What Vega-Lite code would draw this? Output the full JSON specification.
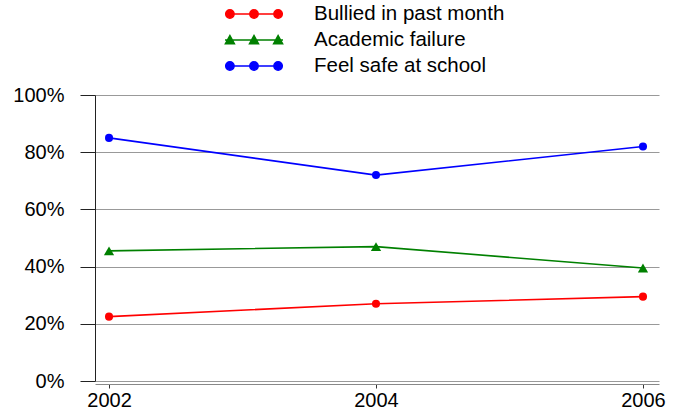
{
  "$schema": "https://vega.github.io/schema/vega-lite/v6.json",
  "width": 564,
  "height": 286,
  "autosize": {"type": "none"},
  "padding": {"left": 95, "top": 95, "right": 20, "bottom": 33},
  "background": "white",
  "config": {
    "view": {"stroke": null},
    "font": "Liberation Sans",
    "axis": {"labelFont": "Liberation Sans", "labelFontSize": 20, "labelColor": "#000"}
  },
  "data": {"values": [
    {"year": 2002, "series": "Bullied in past month", "value": 22.5},
    {"year": 2004, "series": "Bullied in past month", "value": 27},
    {"year": 2006, "series": "Bullied in past month", "value": 29.5},
    {"year": 2002, "series": "Academic failure", "value": 45.5},
    {"year": 2004, "series": "Academic failure", "value": 47},
    {"year": 2006, "series": "Academic failure", "value": 39.5},
    {"year": 2002, "series": "Feel safe at school", "value": 85},
    {"year": 2004, "series": "Feel safe at school", "value": 72},
    {"year": 2006, "series": "Feel safe at school", "value": 82}
  ]},
  "encoding": {
    "x": {
      "field": "year", "type": "quantitative",
      "scale": {"domain": [2001.895, 2006.12], "nice": false, "zero": false},
      "axis": {"values": [2002, 2004, 2006], "format": "d", "title": null, "grid": false,
        "offset": 3, "tickSize": 4, "tickColor": "#333", "domainColor": "#888", "labelPadding": 2, "labelFlush": false}
    },
    "y": {
      "field": "value", "type": "quantitative",
      "scale": {"domain": [0, 100], "nice": false},
      "axis": {"values": [0, 20, 40, 60, 80, 100], "labelExpr": "datum.value + '%'", "title": null,
        "grid": true, "gridColor": "#999", "gridWidth": 1, "tickSize": 15, "tickColor": "#222",
        "domainColor": "#222", "labelPadding": 16}
    },
    "color": {
      "field": "series", "type": "nominal",
      "scale": {"domain": ["Bullied in past month", "Academic failure", "Feel safe at school"], "range": ["#ff0000", "#008000", "#0000ff"]},
      "legend": {
        "title": null, "orient": "none", "legendX": 148, "legendY": -92, "direction": "vertical",
        "labelFontSize": 20.5, "labelFont": "Liberation Sans", "labelColor": "#000", "labelOffset": 49, "labelLimit": 500,
        "symbolSize": 400, "symbolStrokeWidth": 1.5, "rowPadding": 4,
        "encode": {"symbols": {"update": {
          "shape": {"signal": "datum.value === 'Academic failure' ? 'M-2.9,0L2.9,0M-2.86,0.38L-1.96,0.38L-2.41,-0.45ZM-0.45,0.38L0.45,0.38L0,-0.45ZM1.96,0.38L2.86,0.38L2.41,-0.45Z' : 'M-2.9,0L2.9,0M-2.83,0A0.42,0.42 0 1,0 -1.99,0A0.42,0.42 0 1,0 -2.83,0ZM-0.42,0A0.42,0.42 0 1,0 0.42,0A0.42,0.42 0 1,0 -0.42,0ZM1.99,0A0.42,0.42 0 1,0 2.83,0A0.42,0.42 0 1,0 1.99,0Z'"},
          "fill": {"signal": "scale('color', datum.value)"},
          "stroke": {"signal": "scale('color', datum.value)"}
        }}}
      }
    }
  },
  "layer": [
    {"mark": {"type": "line", "strokeWidth": 1.6}},
    {
      "mark": {"type": "point", "filled": true, "opacity": 1},
      "encoding": {
        "shape": {"condition": {"test": "datum.series === 'Academic failure'", "value": "triangle-up"}, "value": "circle"},
        "size": {"condition": {"test": "datum.series === 'Academic failure'", "value": 105}, "value": 65}
      }
    }
  ]
}
